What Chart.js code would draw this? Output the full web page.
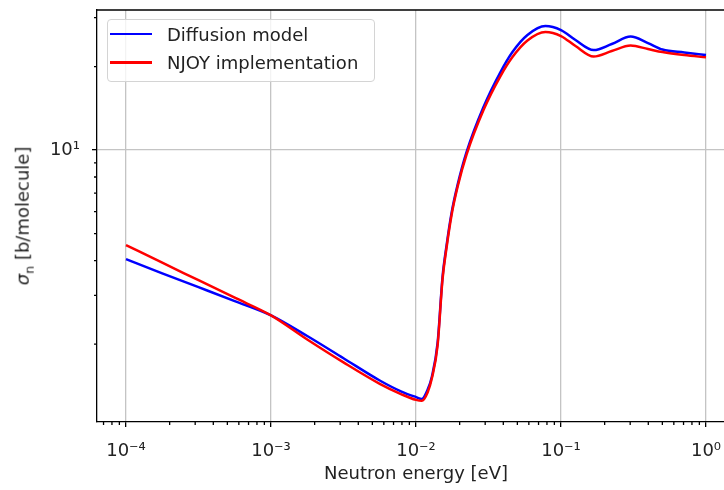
<!DOCTYPE html>
<html>
<head>
<meta charset="utf-8">
<script src="https://cdn.jsdelivr.net/npm/chart.js@4.4.0/dist/chart.umd.min.js"></script>
<style>
  html, body { margin: 0; padding: 0; background: #fff; overflow: hidden; }
  #wrap { position: relative; width: 735px; height: 490px; }
  #ylabel {
    position: absolute; left: 24px; top: 216px;
    transform: translate(-50%, -50%) rotate(-90deg);
    font: 18px "DejaVu Sans"; color: #222; white-space: nowrap;
  }
  #ylabel sub { font-size: 70%; }
  #legend {
    position: absolute; left: 107px; top: 19px; width: 268px; height: 63px;
    box-sizing: border-box; border: 1px solid #d4d4d4; border-radius: 4px;
    background: rgba(255, 255, 255, 0.8);
    font: 18px "DejaVu Sans"; color: #222;
  }
  .row { position: absolute; left: 0; height: 28px; display: flex; align-items: center; white-space: nowrap; }
  .swatch { width: 42px; height: 2.5px; margin-left: 2px; margin-right: 15px; }
</style>
</head>
<body>
<div id="wrap">
  <canvas id="xsChart"></canvas>
  <div id="ylabel"><i>σ</i><sub>n</sub> [b/molecule]</div>
  <div id="legend"></div>
</div>
<script>
// neutron energy [eV] and cross sections [b/molecule]
const energy = [1e-4, 1.778e-4, 3.162e-4, 5.623e-4, 1e-3, 1.778e-3, 3.162e-3, 5.623e-3,
  7.94e-3, 1.0e-2, 1.096e-2, 1.202e-2, 1.288e-2, 1.409e-2, 1.524e-2, 1.626e-2, 1.758e-2,
  1.934e-2, 2.231e-2, 2.921e-2, 3.825e-2, 4.627e-2, 5.870e-2, 7.807e-2, 0.1, 0.1259,
  0.1679, 0.2239, 0.302, 0.398, 0.501, 0.708, 1.0];
const diffusion = [4.05, 3.60, 3.21, 2.86, 2.54, 2.14, 1.78, 1.48,
  1.35, 1.29, 1.27, 1.37, 1.53, 2.02, 3.49, 4.55, 5.93,
  7.48, 9.83, 14.29, 19.10, 22.55, 25.97, 27.98, 27.06, 24.92,
  22.93, 24.10, 25.64, 24.30, 23.02, 22.46, 21.99];
const njoy = [4.55, 3.93, 3.40, 2.94, 2.54, 2.08, 1.72, 1.44,
  1.32, 1.26, 1.25, 1.34, 1.51, 1.98, 3.43, 4.47, 5.83,
  7.36, 9.63, 13.94, 18.48, 21.63, 24.81, 26.63, 25.76, 23.70,
  21.73, 22.74, 23.80, 23.12, 22.55, 21.99, 21.58];

const seriesNames = ["Diffusion model", "NJOY implementation"];
const seriesColors = ["#0000ff", "#ff0000"];

const xMajor = [1e-4, 1e-3, 1e-2, 1e-1, 1];
const xTickLabels = ["10⁻⁴", "10⁻³", "10⁻²", "10⁻¹", "10⁰"];
const yMajor = [10];
const yTickLabels = ["10¹"];

Chart.defaults.font.family = "DejaVu Sans";

function isMajor(v) {
  const l = Math.log10(v);
  return Math.abs(l - Math.round(l)) < 1e-6;
}

// 1..9 x 10^n ticks inside [min, max]
function logTicks(min, max) {
  const out = [];
  for (let e = Math.floor(Math.log10(min)); e <= Math.ceil(Math.log10(max)); e++) {
    for (let m = 1; m < 10; m++) {
      const v = m * Math.pow(10, e);
      if (v >= min && v <= max) out.push({ value: v, major: m === 1 });
    }
  }
  return out;
}

function tickLabel(v, majors, labels) {
  const i = majors.findIndex((m) => Math.abs(Math.log10(m) - Math.log10(v)) < 1e-6);
  return i >= 0 ? labels[i] : "";
}

const gridColor = (c) => (c.tick && isMajor(c.tick.value) ? "#c4c4c4" : "rgba(0,0,0,0)");
const tickColor = (c) => (c.tick && isMajor(c.tick.value) ? "#000" : "rgba(0,0,0,0)");

// top/right spines and the short minor tick marks
const axisDecor = {
  id: "axisDecor",
  afterDraw(chart) {
    const { ctx, chartArea: a, scales } = chart;
    ctx.save();
    ctx.strokeStyle = "#000";
    ctx.lineWidth = 1.3;
    ctx.beginPath();
    ctx.moveTo(a.left, a.top);
    ctx.lineTo(a.right, a.top);
    ctx.lineTo(a.right, a.bottom);
    scales.x.ticks.forEach((t) => {
      if (isMajor(t.value)) return;
      const px = scales.x.getPixelForValue(t.value);
      ctx.moveTo(px, a.bottom);
      ctx.lineTo(px, a.bottom + 3);
    });
    scales.y.ticks.forEach((t) => {
      if (isMajor(t.value)) return;
      const py = scales.y.getPixelForValue(t.value);
      ctx.moveTo(a.left, py);
      ctx.lineTo(a.left - 3, py);
    });
    ctx.stroke();
    ctx.restore();
  },
};

const series = [diffusion, njoy];
const datasets = series.map((vals, i) => ({
  label: seriesNames[i],
  data: energy.map((e, k) => ({ x: e, y: vals[k] })),
  borderColor: seriesColors[i],
  borderWidth: 2.5,
  pointRadius: 0,
  fill: false,
  cubicInterpolationMode: "monotone",
  order: series.length - i,
}));

const ctx = document.getElementById("xsChart").getContext("2d");
const xsChart = new Chart(ctx, {
  type: "line",
  data: { datasets: datasets },
  options: {
    responsive: true,
    maintainAspectRatio: false,
    animation: false,
    layout: { padding: { top: 10, left: 0, right: 0, bottom: 0 } },
    plugins: { legend: { display: false }, tooltip: { enabled: false } },
    scales: {
      x: {
        type: "logarithmic",
        min: Math.pow(10, -4.2),
        max: Math.pow(10, 0.2),
        afterBuildTicks: (s) => { s.ticks = logTicks(s.min, s.max); },
        afterFit: (s) => { s.height = 68; s.paddingLeft = 0; s.paddingRight = 0; },
        ticks: {
          autoSkip: false, maxRotation: 0, padding: 14, color: "#222",
          font: { size: 18 },
          callback: (v) => tickLabel(v, xMajor, xTickLabels),
        },
        grid: { color: gridColor, tickColor: tickColor, lineWidth: 1.3, tickLength: 5, tickWidth: 1.3 },
        border: { color: "#000", width: 1.3 },
        title: {
          display: true, text: "Neutron energy [eV]", color: "#222",
          font: { size: 18 }, padding: { top: 0, bottom: 5 },
        },
      },
      y: {
        type: "logarithmic",
        min: 1.049,
        max: 31.96,
        afterBuildTicks: (s) => { s.ticks = logTicks(s.min, s.max); },
        afterFit: (s) => { s.width = 97; s.paddingTop = 0; s.paddingBottom = 0; },
        ticks: {
          autoSkip: false, padding: 12, color: "#222",
          font: { size: 18 },
          callback: (v) => tickLabel(v, yMajor, yTickLabels),
        },
        grid: { color: gridColor, tickColor: tickColor, lineWidth: 1.3, tickLength: 5, tickWidth: 1.3 },
        border: { color: "#000", width: 1.3 },
      },
    },
  },
  plugins: [axisDecor],
});

// legend box, one row per dataset
const legend = document.getElementById("legend");
datasets.forEach((d, i) => {
  const row = document.createElement("div");
  row.className = "row";
  row.style.top = (i * 28.4) + "px";
  row.innerHTML = `<span class="swatch" style="background:${d.borderColor}"></span><span>${d.label}</span>`;
  legend.appendChild(row);
});
</script>
</body>
</html>
